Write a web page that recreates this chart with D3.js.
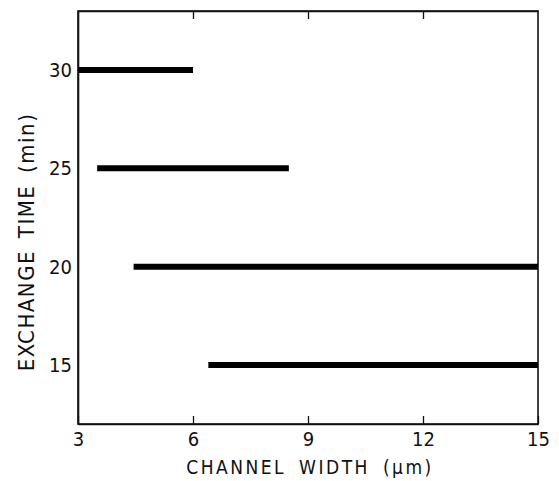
<!DOCTYPE html>
<meta charset="utf-8">
<script src="https://cdn.jsdelivr.net/npm/d3@7/dist/d3.min.js"></script>
<style>
  body { margin: 0; background: #fff; }
  text { font-family: "DejaVu Sans Condensed", "DejaVu Sans", sans-serif; fill: #111; }
</style>
<svg width="559" height="481"></svg>
<script>
// exchange time (min) and the channel width range (um) covered at each time
var times = [30, 25, 20, 15];
var widthStart = [3, 3.5, 4.45, 6.4];
var widthEnd = [6, 8.5, 15, 15];
var xTicks = [3, 6, 9, 12, 15];
var yTicks = [15, 20, 25, 30];

var svg = d3.select("svg"),
  width = +svg.attr("width"),
  height = +svg.attr("height"),
  margin = { top: 11, right: 21, bottom: 57, left: 78 };

var x = d3.scaleLinear().domain([3, 15]).range([margin.left, width - margin.right]);
var y = d3.scaleLinear().domain([12, 33]).range([height - margin.bottom, margin.top]);

//frame
svg.append("rect")
  .attr("x", x(3)).attr("y", y(33))
  .attr("width", x(15) - x(3)).attr("height", y(12) - y(33))
  .attr("fill", "none").attr("stroke", "#111").attr("stroke-width", 1.6);

//bottom axis
var bx = svg.append("g")
  .attr("transform", "translate(0," + y(12) + ")")
  .call(d3.axisBottom(x).tickValues(xTicks).tickSize(-8).tickSizeOuter(0).tickPadding(8));
bx.selectAll("text").attr("font-size", 20);

//top axis ticks only
var tx = svg.append("g")
  .attr("transform", "translate(0," + y(33) + ")")
  .call(d3.axisTop(x).tickValues([6, 9, 12]).tickSize(-8).tickSizeOuter(0).tickFormat(""));

//left axis
var ly = svg.append("g")
  .attr("transform", "translate(" + x(3) + ",0)")
  .call(d3.axisLeft(y).tickValues(yTicks).tickSize(0).tickPadding(6));
ly.selectAll("text").attr("font-size", 20);

svg.selectAll(".domain").attr("stroke", "#111").attr("stroke-width", 1.6);
svg.selectAll(".tick line").attr("stroke", "#111").attr("stroke-width", 1.3);

//bars
svg.append("g")
  .selectAll("line")
  .data(times)
  .enter()
  .append("line")
  .attr("x1", function(d, i) { return x(widthStart[i]); })
  .attr("x2", function(d, i) { return x(widthEnd[i]); })
  .attr("y1", function(d) { return y(d); })
  .attr("y2", function(d) { return y(d); })
  .attr("stroke", "#000")
  .attr("stroke-width", 6);

//x label
svg.append("text")
  .attr("x", 310)
  .attr("y", 474)
  .attr("text-anchor", "middle")
  .attr("font-size", 19)
  .attr("letter-spacing", 2.5)
  .attr("word-spacing", 5)
  .text("CHANNEL WIDTH (\u03bcm)");

//y label
svg.append("text")
  .attr("transform", "translate(34," + 242 + ") rotate(-90)")
  .attr("text-anchor", "middle")
  .attr("font-size", 22)
  .attr("letter-spacing", 1.5)
  .attr("word-spacing", 4)
  .text("EXCHANGE TIME (min)");
</script>
